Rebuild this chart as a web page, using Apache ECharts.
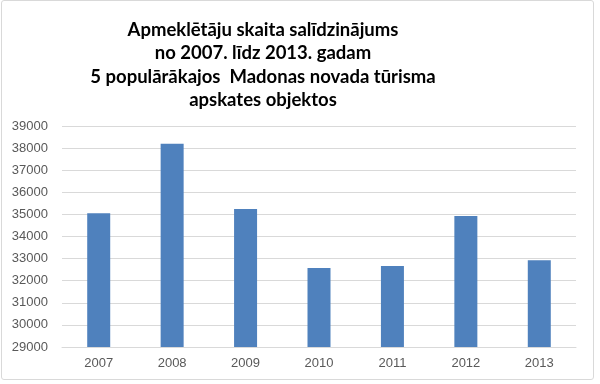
<!DOCTYPE html>
<html><head><meta charset="utf-8">
<script src="https://cdn.jsdelivr.net/npm/echarts@6/dist/echarts.min.js"></script>
<style>html,body{margin:0;padding:0;background:#fff}#c{width:600px;height:384px;}
#frame{position:absolute;left:1px;top:0px;width:591px;height:378px;border:1.5px solid #d9d9d9;border-radius:3px;pointer-events:none;}</style>
</head><body><div id="c"></div><div id="frame"></div>
<script>
const titleLines = ['Apmeklētāju skaita salīdzinājums','no 2007. līdz 2013. gadam','5 populārākajos  Madonas novada tūrisma','apskates objektos'];
const categories = ['2007','2008','2009','2010','2011','2012','2013'];
const visitors = [35050, 38200, 35240, 32570, 32660, 34930, 32920];
const yMin = 29000, yMax = 39000, yStep = 1000;
const chart = echarts.init(document.getElementById('c'));
chart.setOption({
  animation:false,
  title:{text:titleLines.join('\n'),left:258,textAlign:'center',top:13,textStyle:{fontFamily:'Lato',fontWeight:'bold',fontSize:18.5,lineHeight:23.5,color:'#000'}},
  grid:{left:62,right:24,top:126,bottom:37},
  xAxis:{type:'category',data:categories,axisTick:{show:false},axisLine:{lineStyle:{color:'#d9d9d9'}},
    axisLabel:{color:'#595959',fontSize:13,fontFamily:'Liberation Sans',margin:10}},
  yAxis:{type:'value',min:yMin,max:yMax,interval:yStep,axisLine:{show:false},axisTick:{show:false},
    splitLine:{lineStyle:{color:'#d9d9d9'}},
    axisLabel:{color:'#595959',fontSize:13,fontFamily:'Liberation Sans',margin:14,formatter:v=>String(v)}},
  series:[{type:'bar',data:visitors,barWidth:23,itemStyle:{color:'#4f81bd'}}]
});
</script></body></html>
